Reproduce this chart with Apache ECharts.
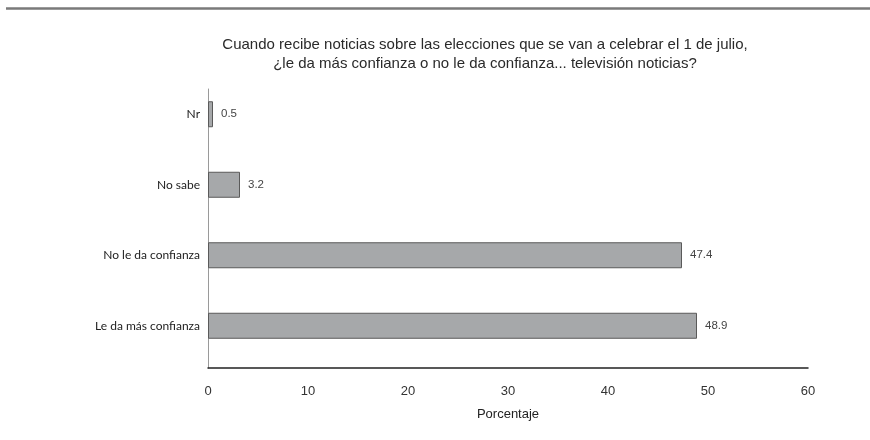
<!DOCTYPE html>
<html>
<head>
<meta charset="utf-8">
<script src="https://cdn.jsdelivr.net/npm/echarts@6/dist/echarts.min.js"></script>
<style>
  html, body { margin: 0; padding: 0; background: #fff; }
  #chart { width: 870px; height: 440px; }
</style>
</head>
<body>
<div id="chart"></div>
<script>
// Survey answers, top to bottom
const categories = ['Nr', 'No sabe', 'No le da confianza', 'Le da más confianza'];
const percentages = [0.5, 3.2, 47.4, 48.9];
const xTicks = [0, 10, 20, 30, 40, 50, 60];

const titleLines = [
  'Cuando recibe noticias sobre las elecciones que se van a celebrar el 1 de julio,',
  '¿le da más confianza o no le da confianza... televisión noticias?'
];

const chart = echarts.init(document.getElementById('chart'));

chart.setOption({
  animation: false,
  backgroundColor: '#ffffff',
  title: {
    text: titleLines.join('\n'),
    left: 480,
    textAlign: 'center',
    top: 30,
    textStyle: {
      fontFamily: 'Liberation Sans, Arial, sans-serif',
      fontSize: 15,
      fontWeight: 'normal',
      color: '#2a2a2a',
      lineHeight: 19
    }
  },
  graphic: [{
    type: 'line',
    shape: { x1: 6, y1: 8.5, x2: 870, y2: 8.5 },
    style: { stroke: '#7a7a7a', lineWidth: 2.5 }
  }],
  grid: [
    { left: 208, right: 62, top: 79, bottom: 79 },
    { left: 208, right: 62, top: 89, bottom: 72 }
  ],
  xAxis: [{
    type: 'value',
    gridIndex: 0,
    min: xTicks[0],
    max: xTicks[xTicks.length - 1],
    interval: 10,
    offset: 7,
    name: 'Porcentaje',
    nameLocation: 'middle',
    nameGap: 40,
    nameTextStyle: {
      fontFamily: 'Liberation Sans, Arial, sans-serif',
      fontSize: 13,
      color: '#222'
    },
    axisLine: { show: true, lineStyle: { color: '#222', width: 1.5 } },
    axisTick: { show: false },
    splitLine: { show: false },
    axisLabel: {
      margin: 17,
      fontFamily: 'Liberation Sans, Arial, sans-serif',
      fontSize: 13,
      color: '#333'
    }
  }, {
    type: 'value',
    gridIndex: 1,
    show: false
  }],
  yAxis: [{
    type: 'category',
    gridIndex: 0,
    data: categories,
    inverse: true,
    axisLine: { show: false },
    axisTick: { show: false },
    axisLabel: {
      margin: 8,
      fontFamily: 'Lato, Open Sans, sans-serif',
      fontSize: 12,
      color: '#222'
    }
  }, {
    type: 'value',
    gridIndex: 1,
    axisLine: { show: true, onZero: false, lineStyle: { color: '#9a9a9a', width: 1 } },
    axisTick: { show: false },
    axisLabel: { show: false },
    splitLine: { show: false }
  }],
  series: [{
    type: 'bar',
    xAxisIndex: 0,
    yAxisIndex: 0,
    data: percentages,
    barWidth: 26,
    itemStyle: {
      color: '#a6a8aa',
      borderColor: '#5a5a5a',
      borderWidth: 1
    },
    label: {
      show: true,
      position: 'right',
      distance: 8,
      fontFamily: 'Liberation Sans, Arial, sans-serif',
      fontSize: 11.5,
      color: '#444',
      formatter: p => p.value.toFixed(1)
    }
  }]
});
</script>
</body>
</html>
